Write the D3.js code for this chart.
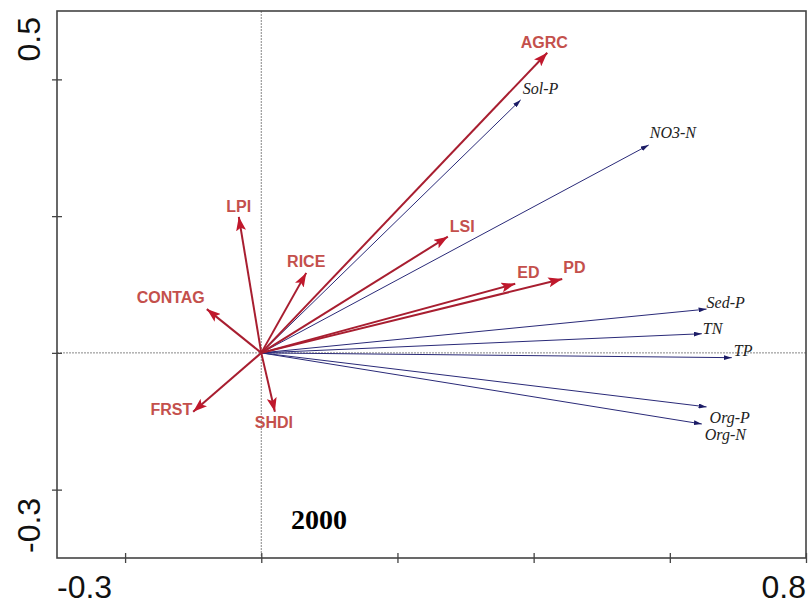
<!DOCTYPE html>
<html>
<head>
<meta charset="utf-8">
<script src="https://cdn.jsdelivr.net/npm/d3@7"></script>
<style>
  body { margin: 0; background: #fff; }
  svg { display: block; }
  .env-label { font-family: Arial, "Liberation Sans", sans-serif; font-weight: bold; font-size: 16px; fill: #c4504c; }
  .resp-label { font-family: "Times New Roman", "Liberation Serif", serif; font-style: italic; font-size: 16px; fill: #222; }
  .edge-label { font-family: Arial, "Liberation Sans", sans-serif; fill: #111; }
</style>
</head>
<body>
<svg width="809" height="605"></svg>
<script>
// environmental variables (red arrows)
var envNames = ["AGRC", "LPI", "RICE", "CONTAG", "FRST", "SHDI", "LSI", "ED", "PD"];
var envX = [0.420, -0.033, 0.066, -0.080, -0.100, 0.020, 0.274, 0.373, 0.442];
var envY = [0.439, 0.199, 0.117, 0.064, -0.086, -0.086, 0.170, 0.101, 0.108];

// response variables (blue arrows)
var respNames = ["Sol-P", "NO3-N", "Sed-P", "TN", "TP", "Org-P", "Org-N"];
var respX = [0.381, 0.569, 0.654, 0.647, 0.691, 0.654, 0.647];
var respY = [0.370, 0.304, 0.064, 0.028, -0.007, -0.079, -0.104];

var xTicks = [-0.2, 0, 0.2, 0.4, 0.6, 0.8];
var yTicks = [-0.2, 0, 0.2, 0.4];
var xDomain = [-0.3, 0.8];
var yDomain = [-0.3, 0.5];
var yearLabel = "2000";

// label placement relative to arrow tip: [dx, dy, anchor]
var labelPos = {
  "AGRC": [-3, -5, "middle"], "LPI": [0, -5, "middle"], "RICE": [0, -6, "middle"],
  "CONTAG": [-2, -6, "end"], "FRST": [-1, 3, "end"], "SHDI": [-1, 16, "middle"],
  "LSI": [2, -5, "start"], "ED": [2, -6, "start"], "PD": [1, -6, "start"],
  "Sol-P": [2, -6, "start"], "NO3-N": [1, -7, "start"], "Sed-P": [0, -1, "start"],
  "TN": [1, 0, "start"], "TP": [2, -2, "start"], "Org-P": [3, 16, "start"], "Org-N": [3, 16, "start"]
};

var plotLeft = 57, plotRight = 806, plotTop = 11, plotBottom = 558;

var x = d3.scaleLinear().domain(xDomain).range([plotLeft, plotRight]);
var y = d3.scaleLinear().domain(yDomain).range([plotBottom, plotTop]);

var svg = d3.select("svg");

var defs = svg.append("defs");
defs.append("marker")
    .attr("id", "headRed")
    .attr("viewBox", "0 0 14 10")
    .attr("refX", 14).attr("refY", 5)
    .attr("markerWidth", 14).attr("markerHeight", 10)
    .attr("markerUnits", "userSpaceOnUse")
    .attr("orient", "auto")
  .append("path")
    .attr("d", "M0,0 L14,5 L0,10 L3,5 Z")
    .attr("fill", "#c0182c");
defs.append("marker")
    .attr("id", "headBlue")
    .attr("viewBox", "0 0 8 5")
    .attr("refX", 8).attr("refY", 2.5)
    .attr("markerWidth", 8).attr("markerHeight", 5)
    .attr("markerUnits", "userSpaceOnUse")
    .attr("orient", "auto")
  .append("path")
    .attr("d", "M0,0 L8,2.5 L0,5 Z")
    .attr("fill", "#1c1c66");

// zero lines
svg.append("line")
    .attr("x1", plotLeft).attr("x2", plotRight).attr("y1", y(0)).attr("y2", y(0))
    .attr("stroke", "#888").attr("stroke-width", 1).attr("stroke-dasharray", "2,1");
svg.append("line")
    .attr("x1", x(0)).attr("x2", x(0)).attr("y1", plotTop).attr("y2", plotBottom)
    .attr("stroke", "#888").attr("stroke-width", 1).attr("stroke-dasharray", "2,1");

// frame
svg.append("rect")
    .attr("x", plotLeft).attr("y", plotTop)
    .attr("width", plotRight - plotLeft).attr("height", plotBottom - plotTop)
    .attr("fill", "none").attr("stroke", "#444").attr("stroke-width", 1.6);

// ticks crossing the axes
svg.append("g")
    .attr("transform", "translate(0," + (plotBottom - 5) + ")")
    .call(d3.axisBottom(x).tickValues(xTicks).tickSize(10).tickFormat(""));
svg.append("g")
    .attr("transform", "translate(" + (plotLeft + 5) + ",0)")
    .call(d3.axisLeft(y).tickValues(yTicks).tickSize(10).tickFormat(""));
svg.selectAll(".domain").remove();
svg.selectAll(".tick line").attr("stroke", "#444").attr("stroke-width", 1.3);

// edge labels
svg.append("text").attr("class", "edge-label")
    .attr("x", plotLeft).attr("y", 598).attr("text-anchor", "start")
    .attr("font-size", 32).text(xDomain[0].toFixed(1));
svg.append("text").attr("class", "edge-label")
    .attr("x", plotRight).attr("y", 598).attr("text-anchor", "end")
    .attr("font-size", 32).text(xDomain[1].toFixed(1));
svg.append("text").attr("class", "edge-label")
    .attr("transform", "translate(40," + (plotTop + 6) + ") rotate(-90)")
    .attr("text-anchor", "end").attr("font-size", 32).text(yDomain[1].toFixed(1));
svg.append("text").attr("class", "edge-label")
    .attr("transform", "translate(40," + (plotBottom - 5) + ") rotate(-90)")
    .attr("text-anchor", "start").attr("font-size", 32).text(yDomain[0].toFixed(1));

var resp = respNames.map(function(n, i) { return { name: n, x: respX[i], y: respY[i] }; });
var env = envNames.map(function(n, i) { return { name: n, x: envX[i], y: envY[i] }; });

// response arrows
svg.append("g").selectAll("line").data(resp).enter().append("line")
    .attr("x1", x(0)).attr("y1", y(0))
    .attr("x2", function(d) { return x(d.x); })
    .attr("y2", function(d) { return y(d.y); })
    .attr("stroke", "#2a2a78").attr("stroke-width", 1)
    .attr("marker-end", "url(#headBlue)");

// environmental arrows
svg.append("g").selectAll("line").data(env).enter().append("line")
    .attr("x1", x(0)).attr("y1", y(0))
    .attr("x2", function(d) { return x(d.x); })
    .attr("y2", function(d) { return y(d.y); })
    .attr("stroke", "#a81e30").attr("stroke-width", 2)
    .attr("marker-end", "url(#headRed)");

function addLabels(data, cls) {
  svg.append("g").selectAll("text").data(data).enter().append("text")
      .attr("class", cls)
      .attr("x", function(d) { return x(d.x) + labelPos[d.name][0]; })
      .attr("y", function(d) { return y(d.y) + labelPos[d.name][1]; })
      .attr("text-anchor", function(d) { return labelPos[d.name][2]; })
      .text(function(d) { return d.name; });
}
addLabels(resp, "resp-label");
addLabels(env, "env-label");

svg.append("text")
    .attr("x", 319).attr("y", 529).attr("text-anchor", "middle")
    .attr("font-family", "'Times New Roman', 'Liberation Serif', serif")
    .attr("font-weight", "bold").attr("font-size", 28)
    .text(yearLabel);
</script>
</body>
</html>
